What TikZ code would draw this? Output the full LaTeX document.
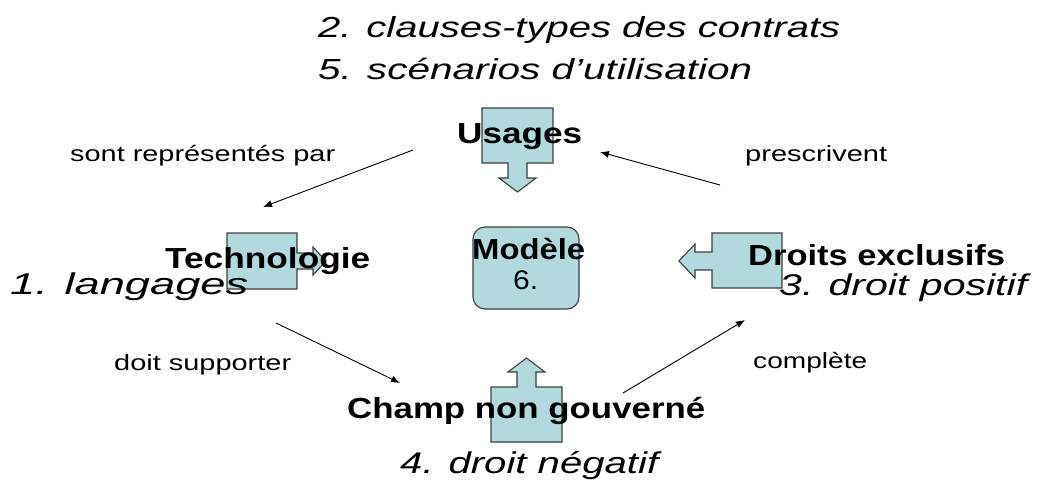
\documentclass[tikz,border=0pt]{standalone}
\usepackage{fontspec}
\setmainfont{Liberation Sans}
\usepackage{graphicx}
\usetikzlibrary{arrows.meta}
\definecolor{callfill}{RGB}{178,217,222}
\definecolor{callline}{RGB}{62,62,62}
\newcommand{\fitw}[2]{\resizebox{#1pt}{\height}{#2}}
\newcommand{\bigit}{\fontsize{30}{34}\selectfont\itshape}
\newcommand{\titit}{\fontsize{29}{34}\selectfont\itshape}
\newcommand{\boldlab}{\fontsize{29}{32}\selectfont\bfseries}
\newcommand{\smalllab}{\fontsize{22}{26}\selectfont}
\tikzset{
  lbl/.style={inner sep=0pt, anchor=base west, text=black},
  callout/.style={fill=callfill, draw=callline, line width=1.1pt, line join=miter},
  conn/.style={draw=black, line width=0.9pt, -{Latex[length=9pt,width=7pt]}},
  modelbox/.style={fill=callfill, draw=callline, line width=1.1pt, rounded corners=12pt,
    minimum width=106pt, minimum height=82pt, inner sep=0pt},
}
\begin{document}
\begin{tikzpicture}[x=1pt,y=-1pt]
\useasboundingbox[fill=white] (0,0) rectangle (1052,495);

% callouts
\path[callout] (482,108) -- (553,108) -- (553,163) -- (527,163) -- (527,178) -- (536,178)
  -- (517.5,192) -- (499,178) -- (508,178) -- (508,163) -- (482,163) -- cycle;
\path[callout] (227,233) -- (297,233) -- (297,253) -- (313,253) -- (313,247) -- (326,261)
  -- (313,275) -- (313,269) -- (297,269) -- (297,289) -- (227,289) -- cycle;
\path[callout] (782,233) -- (712,233) -- (712,252) -- (695,252) -- (695,244) -- (679,261)
  -- (695,278) -- (695,270) -- (712,270) -- (712,288) -- (782,288) -- cycle;
\path[callout] (491,442) -- (491,387) -- (517,387) -- (517,372) -- (508,372) -- (526.5,358)
  -- (545,372) -- (536,372) -- (536,387) -- (562,387) -- (562,442) -- cycle;
\node[modelbox] (model) at (526,268) {};

% titles
\node[lbl] (t1) at (318,38) {\fitw{522}{\titit 2. clauses-types des contrats}};
\node[lbl] (t2) at (318,79) {\fitw{434}{\titit 5. scénarios d’utilisation}};

% main labels
\node[lbl] (usages) at (457,143) {\fitw{125}{\boldlab Usages}};
\node[lbl] (techno) at (165,268) {\fitw{205}{\boldlab Technologie}};
\node[lbl] (modele) at (472,259) {\fitw{113}{\boldlab Modèle}};
\node[lbl] (six) at (513,289) {\fitw{25}{\fontsize{27}{30}\selectfont 6.}};
\node[lbl] (droits) at (748,265) {\fitw{257}{\boldlab Droits exclusifs}};
\node[lbl] (champ) at (347,418) {\fitw{358}{\boldlab Champ non gouverné}};

% italic annotations
\node[lbl] (lang) at (10,294) {\fitw{238}{\bigit 1. langages}};
\node[lbl] (posit) at (779,295) {\fitw{248}{\bigit 3. droit positif}};
\node[lbl] (negat) at (400,473) {\fitw{258}{\bigit 4. droit négatif}};

% relation labels
\node[lbl] (rep) at (70,161) {\fitw{265}{\smalllab sont représentés par}};
\node[lbl] (presc) at (745,161) {\fitw{142}{\smalllab prescrivent}};
\node[lbl] (supp) at (114,370) {\fitw{177}{\smalllab doit supporter}};
\node[lbl] (compl) at (753,368) {\fitw{114}{\smalllab complète}};

% connectors
\coordinate (a1s) at (413,150); \coordinate (a1e) at (263,207);
\coordinate (a2s) at (720,185); \coordinate (a2e) at (600,152);
\coordinate (a3s) at (276,323); \coordinate (a3e) at (400,383);
\coordinate (a4s) at (623,393); \coordinate (a4e) at (745,320);
\draw[conn] (a1s) -- (a1e);
\draw[conn] (a2s) -- (a2e);
\draw[conn] (a3s) -- (a3e);
\draw[conn] (a4s) -- (a4e);
\end{tikzpicture}
\end{document}
